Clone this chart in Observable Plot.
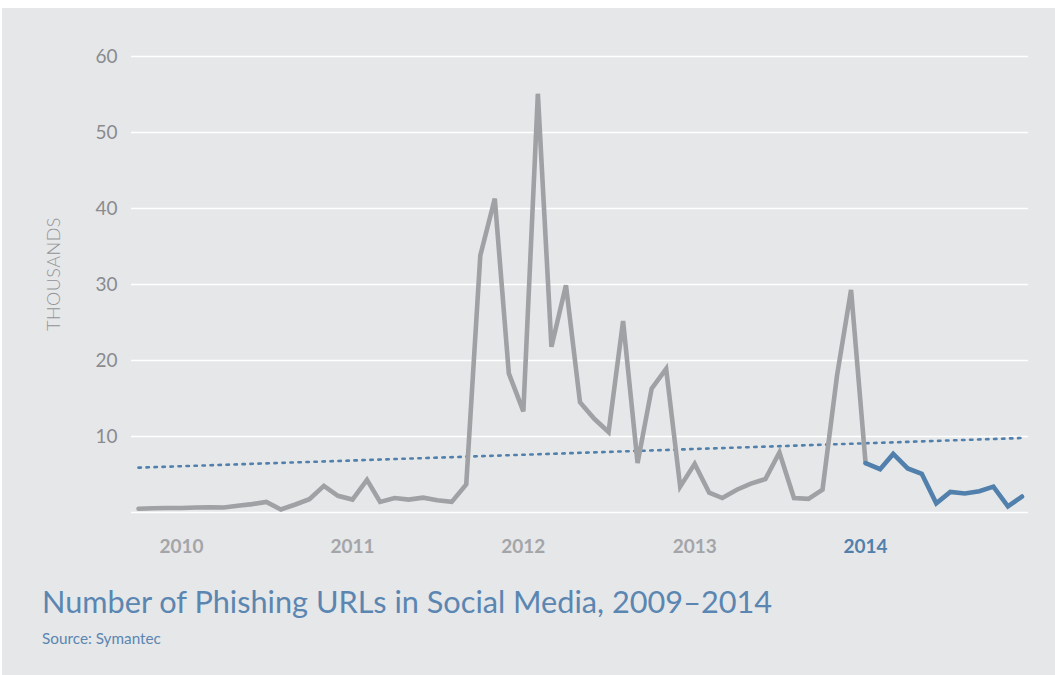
<!DOCTYPE html>
<html>
<head>
<meta charset="utf-8">
<script src="https://cdn.jsdelivr.net/npm/d3@7"></script>
<script src="https://cdn.jsdelivr.net/npm/@observablehq/plot@0.6"></script>
<style>
  html, body { margin: 0; padding: 0; background: #ffffff; width: 1055px; height: 675px; overflow: hidden; }
  #panel { position: absolute; left: 2px; top: 8px; width: 1053px; height: 667px; background: #e6e7e9; }
  #chart { position: absolute; left: 0; top: 0; }
  #ylabel { position: absolute; left: 53px; top: 274px; transform: translate(-50%, -50%) rotate(-90deg);
            font-family: Lato, sans-serif; font-size: 18px; font-weight: 300; color: #939497; letter-spacing: 0.5px; white-space: nowrap; }
  #title { position: absolute; left: 42px; top: 583px; font-family: Lato, sans-serif; font-size: 30.7px; color: #5a86b1; white-space: nowrap; }
  #source { position: absolute; left: 42px; top: 629px; font-family: Lato, sans-serif; font-size: 15.3px; color: #5a86b1; white-space: nowrap; }
</style>
</head>
<body>
<div id="panel"></div>
<div id="chart"></div>
<div id="ylabel">THOUSANDS</div>
<div id="title">Number of Phishing URLs in Social Media, 2009–2014</div>
<div id="source">Source: Symantec</div>
<script>
// Monthly values (thousands), October 2009 – December 2014
const startMonth = "2009-10-01";
const values = [
  0.5, 0.55, 0.6,                                              // 2009 Oct–Dec
  0.6, 0.65, 0.7, 0.65, 0.9, 1.1, 1.4, 0.4, 1.05, 1.75, 3.5, 2.2, // 2010
  1.7, 4.3, 1.4, 1.9, 1.7, 1.95, 1.6, 1.4, 3.7, 33.8, 41.3, 18.3, // 2011
  13.3, 55.1, 21.8, 29.9, 14.5, 12.3, 10.6, 25.2, 6.5, 16.3, 18.9, 3.4, // 2012
  6.4, 2.6, 1.9, 3.0, 3.8, 4.4, 7.9, 1.9, 1.8, 3.0, 18.0, 29.3, // 2013
  6.5, 5.7, 7.7, 5.8, 5.1, 1.2, 2.7, 2.5, 2.8, 3.4, 0.8, 2.1    // 2014
];
const highlightFrom = "2014-01-01";
const trendMonths = ["2009-10-01", "2014-12-01"];
const trendValues = [5.9, 9.8];
const yearTicks = ["2010", "2011", "2012", "2013", "2014"];
const yTicks = [10, 20, 30, 40, 50, 60];
const gridValues = [0, 10, 20, 30, 40, 50, 60];

const start = new Date(startMonth);
const data = values.map((v, i) => ({date: d3.utcMonth.offset(start, i), value: v}));
const hl = new Date(highlightFrom);
const grayData = data.filter(d => d.date <= hl);
const blueData = data.filter(d => d.date >= hl);
const trend = trendMonths.map((m, i) => ({date: new Date(m), value: trendValues[i]}));
const years = yearTicks.map(y => ({date: new Date(y + "-01-01"), label: y}));

const gray = "#a0a1a4";
const blue = "#5080ab";

const chart = Plot.plot({
  width: 1055,
  height: 560,
  marginLeft: 131,
  marginRight: 27,
  marginTop: 56,
  marginBottom: 48,
  style: {background: "transparent", fontFamily: "Lato, sans-serif", overflow: "visible"},
  x: {type: "utc", domain: [new Date("2009-09-16"), new Date("2014-12-15")], axis: null},
  y: {domain: [0, 60], axis: null},
  marks: [
    Plot.gridY(gridValues, {stroke: "#ffffff", strokeOpacity: 1, strokeWidth: 1.5}),
    Plot.axisY(yTicks, {tickSize: 0, tickPadding: 14, fontSize: 19, fill: "#8a8b8e", label: null}),
    Plot.text(years, {x: "date", y: () => 0, text: "label", dy: 34, fontSize: 19, fontWeight: "bold",
      fill: d => d.label === "2014" ? blue : "#a4a5a8"}),
    Plot.line(trend, {x: "date", y: "value", stroke: blue, strokeWidth: 2.6, strokeDasharray: "2.4 5.6"}),
    Plot.line(grayData, {x: "date", y: "value", stroke: gray, strokeWidth: 4.6, strokeLinejoin: "miter", strokeMiterlimit: 3}),
    Plot.line(blueData, {x: "date", y: "value", stroke: blue, strokeWidth: 4.6, strokeLinejoin: "miter", strokeMiterlimit: 3})
  ]
});
document.getElementById("chart").appendChild(chart);
</script>
</body>
</html>
